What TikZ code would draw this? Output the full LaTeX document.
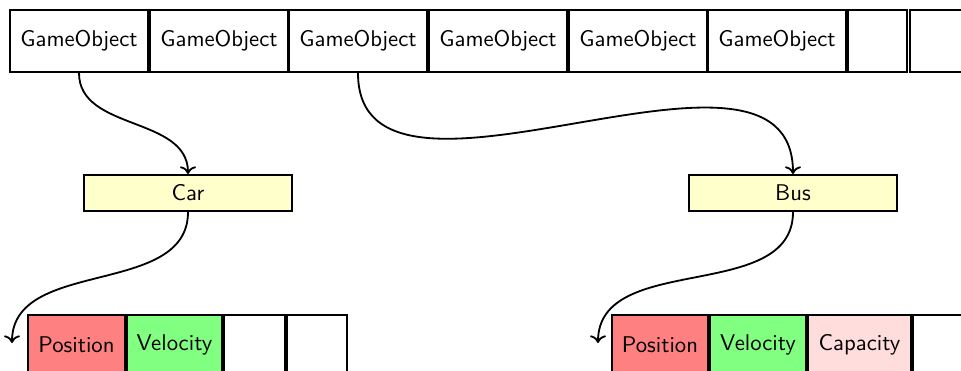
\documentclass[tikz,border=0pt]{standalone}
\usetikzlibrary{arrows.meta}
\definecolor{posred}{HTML}{FF8080}
\definecolor{velgreen}{HTML}{80FF80}
\definecolor{cappink}{HTML}{FFDDDD}
\definecolor{clsyellow}{HTML}{FFFFCC}
\begin{document}
\begin{tikzpicture}[x=0.44pt,y=-0.44pt,
  cell/.style={draw,line width=0.9pt,inner sep=0pt,font=\sffamily,
    minimum width={#1*0.44pt}},
  slot/.style={cell=#1,minimum height={62*0.44pt}},
  comp/.style={cell=#1,minimum height={60*0.44pt}},
  cls/.style={draw,line width=0.9pt,fill=clsyellow,inner sep=0pt,font=\sffamily,
    minimum width={208*0.44pt},minimum height={36*0.44pt}},
  link/.style={->,line width=0.8pt}]
\useasboundingbox (0,0) rectangle (961,371);
\clip (0,0) rectangle (961,371);
% array of game objects
\node[slot=138] (g1) at (79,41) {GameObject};
\node[slot=138] (g2) at (219,41) {GameObject};
\node[slot=138] (g3) at (358,41) {GameObject};
\node[slot=138] (g4) at (498,41) {GameObject};
\node[slot=138] (g5) at (638,41) {GameObject};
\node[slot=138] (g6) at (777,41) {GameObject};
\node[slot=59] (g7) at (877.5,41) {};
\node[slot=100] (g8) at (960,41) {};
% classes
\node[cls] (car) at (188,193) {Car};
\node[cls] (bus) at (793,193) {Bus};
% component arrays of Car
\node[comp=97,fill=posred] (cpos) at (76.5,345) {Position};
\node[comp=95,fill=velgreen] (cvel) at (174.5,345) {Velocity};
\node[comp=61] (ce1) at (254.5,345) {};
\node[comp=60] (ce2) at (317,345) {};
% component arrays of Bus
\node[comp=96,fill=posred] (bpos) at (660,345) {Position};
\node[comp=96,fill=velgreen] (bvel) at (758,345) {Velocity};
\node[comp=103,fill=cappink] (bcap) at (859.5,345) {Capacity};
\node[comp=100] (be1) at (963,345) {};
% links
\coordinate (ctip) at (12,343);
\coordinate (btip) at (598,343);
\draw[link] (g1.south) to[out=-90,in=90] (car.north);
\draw[link] (g3.south) to[out=-90,in=90] (bus.north);
\draw[link] (car.south) to[out=-90,in=90] (ctip);
\draw[link] (bus.south) to[out=-90,in=90] (btip);
\end{tikzpicture}
\end{document}
